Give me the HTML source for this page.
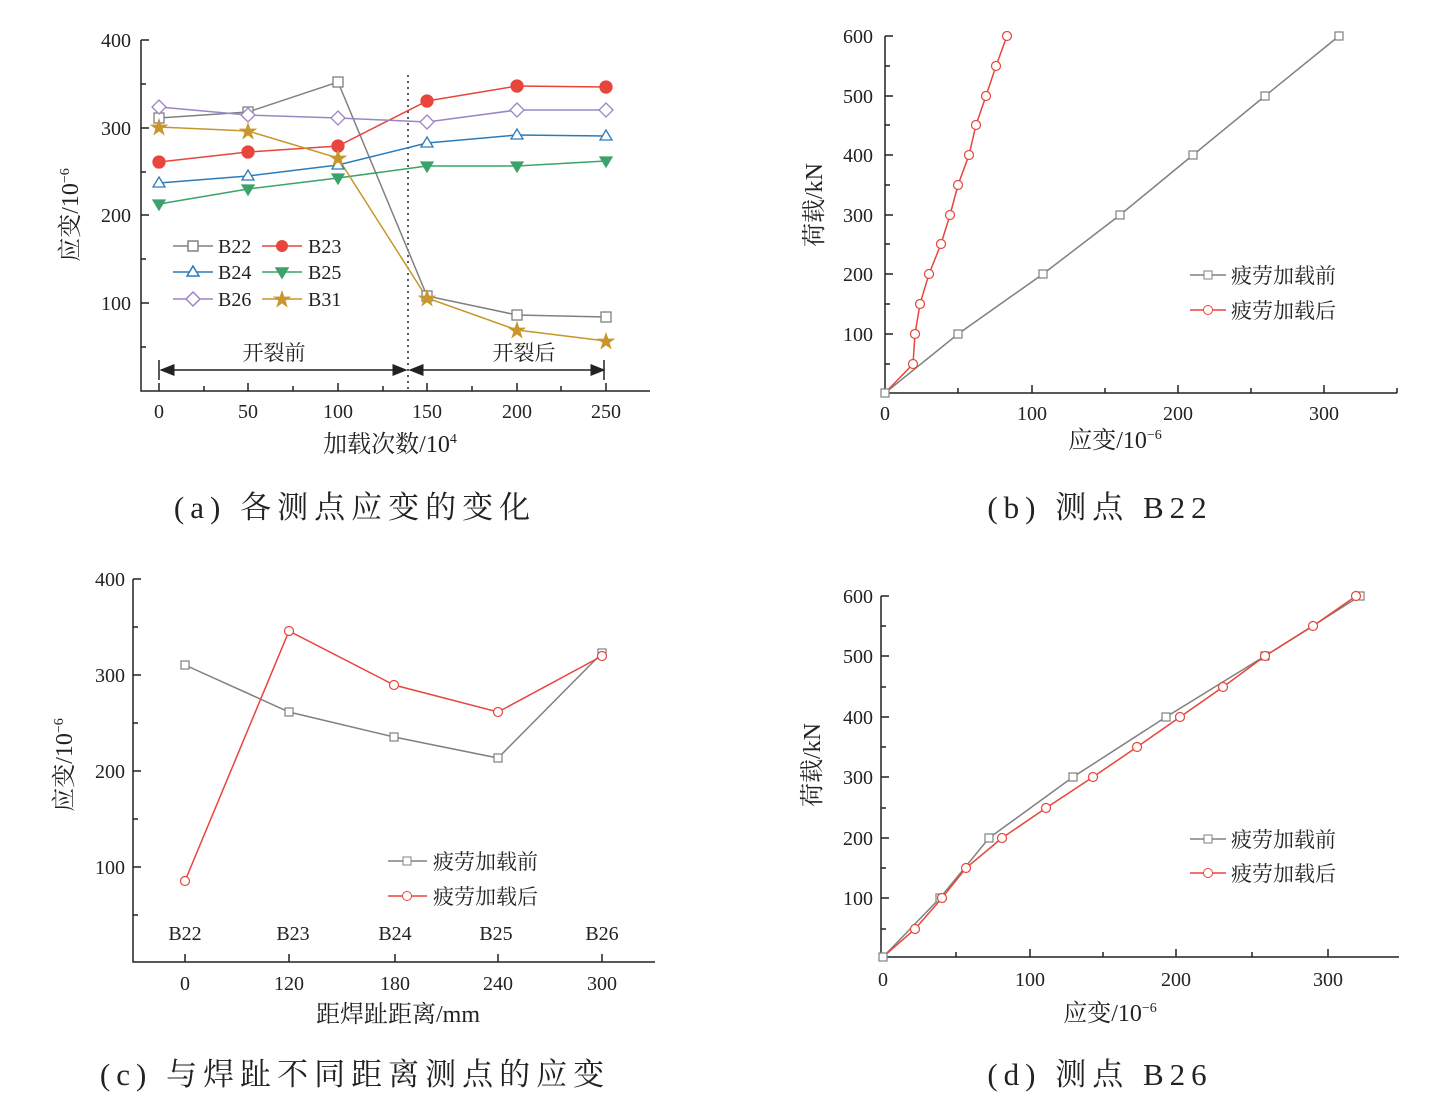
<!DOCTYPE html>
<html><head><meta charset="utf-8"><style>
body{margin:0;background:#fff}
svg{display:block}
text{font-family:"Liberation Serif","Noto Serif CJK SC",serif;fill:#222}
.cap{letter-spacing:6px}
</style></head><body>
<svg width="1450" height="1113" viewBox="0 0 1450 1113" xmlns="http://www.w3.org/2000/svg">
<defs>
<marker id="ar" markerWidth="10" markerHeight="10" refX="9" refY="5" orient="auto"><path d="M0,1 L10,5 L0,9 z" fill="#222"/></marker>
<marker id="al" markerWidth="10" markerHeight="10" refX="1" refY="5" orient="auto"><path d="M10,1 L0,5 L10,9 z" fill="#222"/></marker>
</defs>
<g stroke="#222" stroke-width="1.5" fill="none">
<path d="M141,40 V391 H650"/>
<path d="M141,40 h8 M141,84 h5 M141,128 h8 M141,172 h5 M141,215 h8 M141,259 h5 M141,303 h8 M141,347 h5"/>
<path d="M159,391 v-8 M204,391 v-5 M248,391 v-8 M293,391 v-5 M338,391 v-8 M383,391 v-5 M427,391 v-8 M472,391 v-5 M517,391 v-8 M561,391 v-5 M606,391 v-8"/>
<path d="M885,36 V393 H1397"/>
<path d="M885,36 h8 M885,66 h5 M885,96 h8 M885,125 h5 M885,155 h8 M885,185 h5 M885,215 h8 M885,244 h5 M885,274 h8 M885,304 h5 M885,334 h8 M885,364 h5"/>
<path d="M958,393 v-5 M1032,393 v-8 M1105,393 v-5 M1178,393 v-8 M1251,393 v-5 M1324,393 v-8 M1397,393 v-5"/>
<path d="M133,579 V962 H655"/>
<path d="M133,579 h8 M133,627 h5 M133,675 h8 M133,723 h5 M133,771 h8 M133,819 h5 M133,867 h8 M133,915 h5"/>
<path d="M185,962 v-8 M289,962 v-8 M395,962 v-8 M498,962 v-8 M602,962 v-8"/>
<path d="M881,596 V957 H1399"/>
<path d="M881,596 h8 M881,626 h5 M881,656 h8 M881,687 h5 M881,717 h8 M881,747 h5 M881,777 h8 M881,808 h5 M881,838 h8 M881,868 h5 M881,898 h8 M881,929 h5"/>
<path d="M956,957 v-5 M1030,957 v-8 M1103,957 v-5 M1176,957 v-8 M1252,957 v-5 M1328,957 v-8"/>
</g>
<g font-size="20" text-anchor="end">
<text x="131" y="47">400</text><text x="131" y="135">300</text><text x="131" y="222">200</text><text x="131" y="310">100</text>
</g>
<g font-size="20" text-anchor="middle">
<text x="159" y="418">0</text><text x="248" y="418">50</text><text x="338" y="418">100</text><text x="427" y="418">150</text><text x="517" y="418">200</text><text x="606" y="418">250</text>
<text x="390" y="452" font-size="24">加载次数/10<tspan font-size="14" dy="-9">4</tspan></text>
</g>
<text transform="translate(78,215) rotate(-90)" font-size="24" text-anchor="middle">应变/10<tspan font-size="14" dy="-9">−6</tspan></text>
<line x1="408" y1="75" x2="408" y2="391" stroke="#222" stroke-width="1.5" stroke-dasharray="2,4"/>
<line x1="161" y1="370" x2="406" y2="370" stroke="#222" stroke-width="1.5" marker-start="url(#al)" marker-end="url(#ar)"/>
<line x1="410" y1="370" x2="604" y2="370" stroke="#222" stroke-width="1.5" marker-start="url(#al)" marker-end="url(#ar)"/>
<line x1="159" y1="360" x2="159" y2="380" stroke="#222" stroke-width="1.5"/>
<line x1="604" y1="360" x2="604" y2="380" stroke="#222" stroke-width="1.5"/>
<text x="274" y="360" font-size="21" text-anchor="middle">开裂前</text>
<text x="524" y="360" font-size="21" text-anchor="middle">开裂后</text>
<g fill="none" stroke-width="1.5">
<polyline stroke="#808080" points="159,118 248,112 338,82 427,296 517,315 606,317"/>
<polyline stroke="#e8453c" points="159,162 248,152 338,146 427,101 517,86 606,87"/>
<polyline stroke="#2b7bba" points="159,183 248,176 338,165 427,143 517,135 606,136"/>
<polyline stroke="#3aa36a" points="159,204 248,189 338,178 427,166 517,166 606,161"/>
<polyline stroke="#9b85c4" points="159,107 248,115 338,118 427,122 517,110 606,110"/>
<polyline stroke="#c8962a" points="159,127 248,131 338,158 427,298 517,330 606,341"/>
</g>
<g stroke-width="1.3">
<g fill="#fff" stroke="#808080"><rect x="154" y="113" width="10" height="10"/><rect x="243" y="107" width="10" height="10"/><rect x="333" y="77" width="10" height="10"/><rect x="422" y="291" width="10" height="10"/><rect x="512" y="310" width="10" height="10"/><rect x="601" y="312" width="10" height="10"/></g>
<g fill="#e8453c" stroke="#e8453c"><circle cx="159" cy="162" r="6"/><circle cx="248" cy="152" r="6"/><circle cx="338" cy="146" r="6"/><circle cx="427" cy="101" r="6"/><circle cx="517" cy="86" r="6"/><circle cx="606" cy="87" r="6"/></g>
<g fill="#fff" stroke="#2b7bba"><path d="M159,177 l6,10 h-12z M248,170 l6,10 h-12z M338,159 l6,10 h-12z M427,137 l6,10 h-12z M517,129 l6,10 h-12z M606,130 l6,10 h-12z"/></g>
<g fill="#3aa36a" stroke="#3aa36a"><path d="M159,210 l6,-10 h-12z M248,195 l6,-10 h-12z M338,184 l6,-10 h-12z M427,172 l6,-10 h-12z M517,172 l6,-10 h-12z M606,167 l6,-10 h-12z"/></g>
<g fill="#fff" stroke="#9b85c4"><path d="M159,100 l7,7 -7,7 -7,-7z M248,108 l7,7 -7,7 -7,-7z M338,111 l7,7 -7,7 -7,-7z M427,115 l7,7 -7,7 -7,-7z M517,103 l7,7 -7,7 -7,-7z M606,103 l7,7 -7,7 -7,-7z"/></g>
<g font-size="20" text-anchor="middle"><text x="159" y="134" style="fill:#c8962a">★</text><text x="248" y="138" style="fill:#c8962a">★</text><text x="338" y="165" style="fill:#c8962a">★</text><text x="427" y="305" style="fill:#c8962a">★</text><text x="517" y="337" style="fill:#c8962a">★</text><text x="606" y="348" style="fill:#c8962a">★</text></g>
</g>
<g stroke-width="1.5" font-size="20">
<line x1="173" y1="246" x2="213" y2="246" stroke="#808080"/><rect x="188" y="241" width="10" height="10" fill="#fff" stroke="#808080"/><text x="218" y="253">B22</text>
<line x1="262" y1="246" x2="302" y2="246" stroke="#e8453c"/><circle cx="282" cy="246" r="6" fill="#e8453c"/><text x="308" y="253">B23</text>
<line x1="173" y1="272" x2="213" y2="272" stroke="#2b7bba"/><path d="M193,266 l6,10 h-12z" fill="#fff" stroke="#2b7bba"/><text x="218" y="279">B24</text>
<line x1="262" y1="272" x2="302" y2="272" stroke="#3aa36a"/><path d="M282,278 l6,-10 h-12z" fill="#3aa36a" stroke="#3aa36a"/><text x="308" y="279">B25</text>
<line x1="173" y1="299" x2="213" y2="299" stroke="#9b85c4"/><path d="M193,292 l7,7 -7,7 -7,-7z" fill="#fff" stroke="#9b85c4"/><text x="218" y="306">B26</text>
<line x1="262" y1="299" x2="302" y2="299" stroke="#c8962a"/><text x="282" y="306" text-anchor="middle" style="fill:#c8962a">★</text><text x="308" y="306">B31</text>
</g>
<text class="cap" x="355" y="518" font-size="31" text-anchor="middle">(a) 各测点应变的变化</text>

<g font-size="20" text-anchor="end">
<text x="873" y="43">600</text><text x="873" y="103">500</text><text x="873" y="162">400</text><text x="873" y="222">300</text><text x="873" y="281">200</text><text x="873" y="341">100</text>
</g>
<g font-size="20" text-anchor="middle">
<text x="885" y="420">0</text><text x="1032" y="420">100</text><text x="1178" y="420">200</text><text x="1324" y="420">300</text>
<text x="1115" y="448" font-size="24">应变/10<tspan font-size="14" dy="-9">−6</tspan></text>
</g>
<text transform="translate(822,205) rotate(-90)" font-size="24" text-anchor="middle">荷载/kN</text>
<polyline fill="none" stroke="#808080" stroke-width="1.5" points="885,393 958,334 1043,274 1120,215 1193,155 1265,96 1339,36"/>
<polyline fill="none" stroke="#e8453c" stroke-width="1.5" points="885,393 913,364 915,334 920,304 929,274 941,244 950,215 958,185 969,155 976,125 986,96 996,66 1007,36"/>
<g fill="#fff" stroke="#808080" stroke-width="1.2"><rect x="881" y="389" width="8" height="8"/><rect x="954" y="330" width="8" height="8"/><rect x="1039" y="270" width="8" height="8"/><rect x="1116" y="211" width="8" height="8"/><rect x="1189" y="151" width="8" height="8"/><rect x="1261" y="92" width="8" height="8"/><rect x="1335" y="32" width="8" height="8"/></g>
<g fill="#fff" stroke="#e8453c" stroke-width="1.2"><circle cx="913" cy="364" r="4.5"/><circle cx="915" cy="334" r="4.5"/><circle cx="920" cy="304" r="4.5"/><circle cx="929" cy="274" r="4.5"/><circle cx="941" cy="244" r="4.5"/><circle cx="950" cy="215" r="4.5"/><circle cx="958" cy="185" r="4.5"/><circle cx="969" cy="155" r="4.5"/><circle cx="976" cy="125" r="4.5"/><circle cx="986" cy="96" r="4.5"/><circle cx="996" cy="66" r="4.5"/><circle cx="1007" cy="36" r="4.5"/></g>
<g font-size="21">
<line x1="1190" y1="275" x2="1226" y2="275" stroke="#808080" stroke-width="1.5"/><rect x="1204" y="271" width="8" height="8" fill="#fff" stroke="#808080"/><text x="1231" y="283">疲劳加载前</text>
<line x1="1190" y1="310" x2="1226" y2="310" stroke="#e8453c" stroke-width="1.5"/><circle cx="1208" cy="310" r="4.5" fill="#fff" stroke="#e8453c"/><text x="1231" y="318">疲劳加载后</text>
</g>
<text class="cap" x="1100" y="518" font-size="31" text-anchor="middle">(b) 测点 B22</text>

<g font-size="20" text-anchor="end">
<text x="125" y="586">400</text><text x="125" y="682">300</text><text x="125" y="778">200</text><text x="125" y="874">100</text>
</g>
<g font-size="20" text-anchor="middle">
<text x="185" y="940">B22</text><text x="293" y="940">B23</text><text x="395" y="940">B24</text><text x="496" y="940">B25</text><text x="602" y="940">B26</text>
<text x="185" y="990">0</text><text x="289" y="990">120</text><text x="395" y="990">180</text><text x="498" y="990">240</text><text x="602" y="990">300</text>
<text x="398" y="1022" font-size="24">距焊趾距离/mm</text>
</g>
<text transform="translate(72,765) rotate(-90)" font-size="24" text-anchor="middle">应变/10<tspan font-size="14" dy="-9">−6</tspan></text>
<polyline fill="none" stroke="#808080" stroke-width="1.5" points="185,665 289,712 394,737 498,758 602,653"/>
<polyline fill="none" stroke="#e8453c" stroke-width="1.5" points="185,881 289,631 394,685 498,712 602,656"/>
<g fill="#fff" stroke="#808080" stroke-width="1.2"><rect x="181" y="661" width="8" height="8"/><rect x="285" y="708" width="8" height="8"/><rect x="390" y="733" width="8" height="8"/><rect x="494" y="754" width="8" height="8"/><rect x="598" y="649" width="8" height="8"/></g>
<g fill="#fff" stroke="#e8453c" stroke-width="1.2"><circle cx="185" cy="881" r="4.5"/><circle cx="289" cy="631" r="4.5"/><circle cx="394" cy="685" r="4.5"/><circle cx="498" cy="712" r="4.5"/><circle cx="602" cy="656" r="4.5"/></g>
<g font-size="21">
<line x1="388" y1="861" x2="427" y2="861" stroke="#808080" stroke-width="1.5"/><rect x="403" y="857" width="8" height="8" fill="#fff" stroke="#808080"/><text x="433" y="869">疲劳加载前</text>
<line x1="388" y1="896" x2="427" y2="896" stroke="#e8453c" stroke-width="1.5"/><circle cx="407" cy="896" r="4.5" fill="#fff" stroke="#e8453c"/><text x="433" y="904">疲劳加载后</text>
</g>
<text class="cap" x="355" y="1085" font-size="31" text-anchor="middle">(c) 与焊趾不同距离测点的应变</text>

<g font-size="20" text-anchor="end">
<text x="873" y="603">600</text><text x="873" y="663">500</text><text x="873" y="724">400</text><text x="873" y="784">300</text><text x="873" y="845">200</text><text x="873" y="905">100</text>
</g>
<g font-size="20" text-anchor="middle">
<text x="883" y="986">0</text><text x="1030" y="986">100</text><text x="1176" y="986">200</text><text x="1328" y="986">300</text>
<text x="1110" y="1021" font-size="24">应变/10<tspan font-size="14" dy="-9">−6</tspan></text>
</g>
<text transform="translate(820,765) rotate(-90)" font-size="24" text-anchor="middle">荷载/kN</text>
<polyline fill="none" stroke="#808080" stroke-width="1.5" points="883,957 940,898 989,838 1073,777 1166,717 1265,656 1360,596"/>
<polyline fill="none" stroke="#e8453c" stroke-width="1.5" points="883,957 915,929 942,898 966,868 1002,838 1046,808 1093,777 1137,747 1180,717 1223,687 1265,656 1313,626 1356,596"/>
<g fill="#fff" stroke="#808080" stroke-width="1.2"><rect x="879" y="953" width="8" height="8"/><rect x="936" y="894" width="8" height="8"/><rect x="985" y="834" width="8" height="8"/><rect x="1069" y="773" width="8" height="8"/><rect x="1162" y="713" width="8" height="8"/><rect x="1261" y="652" width="8" height="8"/><rect x="1356" y="592" width="8" height="8"/></g>
<g fill="#fff" stroke="#e8453c" stroke-width="1.2"><circle cx="915" cy="929" r="4.5"/><circle cx="942" cy="898" r="4.5"/><circle cx="966" cy="868" r="4.5"/><circle cx="1002" cy="838" r="4.5"/><circle cx="1046" cy="808" r="4.5"/><circle cx="1093" cy="777" r="4.5"/><circle cx="1137" cy="747" r="4.5"/><circle cx="1180" cy="717" r="4.5"/><circle cx="1223" cy="687" r="4.5"/><circle cx="1265" cy="656" r="4.5"/><circle cx="1313" cy="626" r="4.5"/><circle cx="1356" cy="596" r="4.5"/></g>
<g font-size="21">
<line x1="1190" y1="839" x2="1226" y2="839" stroke="#808080" stroke-width="1.5"/><rect x="1204" y="835" width="8" height="8" fill="#fff" stroke="#808080"/><text x="1231" y="847">疲劳加载前</text>
<line x1="1190" y1="873" x2="1226" y2="873" stroke="#e8453c" stroke-width="1.5"/><circle cx="1208" cy="873" r="4.5" fill="#fff" stroke="#e8453c"/><text x="1231" y="881">疲劳加载后</text>
</g>
<text class="cap" x="1100" y="1085" font-size="31" text-anchor="middle">(d) 测点 B26</text>
</svg>
</body></html>
